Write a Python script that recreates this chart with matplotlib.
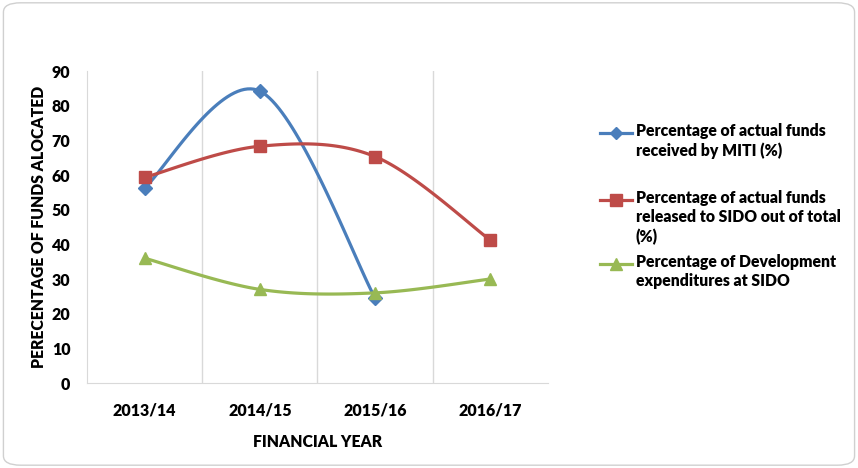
import numpy as np
import matplotlib.pyplot as plt
from matplotlib.patches import FancyBboxPatch
from matplotlib.lines import Line2D

plt.rcParams['font.family'] = ['Lato', 'DejaVu Sans']

years = ['2013/14', '2014/15', '2015/16', '2016/17']
miti = [56.3, 84.2, 24.5]
sido_released = [59.3, 68.3, 65.3, 41.2]
dev_exp = [36.0, 27.0, 26.0, 30.0]

labels = ['Percentage of actual funds\nreceived by MITI (%)',
          'Percentage of actual funds\nreleased to SIDO out of total\n(%)',
          'Percentage of Development\nexpenditures at SIDO']
colors = ['#4a7ebb', '#be4b48', '#98b954']
markers = ['D', 's', '^']
msizes = [7, 9, 9]


def smooth(xs, ys, n=40):
    # Catmull-Rom style bezier through the points
    p = np.column_stack([xs, ys]).astype(float)
    ext = np.vstack([p[0], p, p[-1]])
    out = []
    t = np.linspace(0, 1, n)[:, None]
    for i in range(len(p) - 1):
        p0, p1, p2, p3 = ext[i], ext[i + 1], ext[i + 2], ext[i + 3]
        c1 = p1 + (p2 - p0) / 6
        c2 = p2 - (p3 - p1) / 6
        seg = ((1 - t) ** 3) * p1 + 3 * ((1 - t) ** 2) * t * c1 + 3 * (1 - t) * t ** 2 * c2 + t ** 3 * p2
        out.append(seg)
    out = np.vstack(out)
    return out[:, 0], out[:, 1]


fig = plt.figure(figsize=(8.58, 4.68), dpi=100)
ax = fig.add_axes([87 / 858, 1 - 383 / 468, 461 / 858, 312 / 468])

series = [miti, sido_released, dev_exp]
for vals, c, m, ms in zip(series, colors, markers, msizes):
    x = np.arange(len(vals))
    sx, sy = smooth(x, vals)
    ax.plot(sx, sy, color=c, lw=2.3, solid_capstyle='round', zorder=3)
    ax.plot(x, vals, ls='none', marker=m, ms=ms, color=c, zorder=4)

ax.set_xlim(-0.5, 3.5)
ax.set_ylim(0, 90)
ax.set_yticks(range(0, 91, 10))
ax.set_xticks(range(len(years)))
ax.set_xticklabels(years)
for b in [0.5, 1.5, 2.5]:
    ax.axvline(b, color='#d9d9d9', lw=1, zorder=1)

for s in ['top', 'right']:
    ax.spines[s].set_visible(False)
for s in ['left', 'bottom']:
    ax.spines[s].set_color('#d9d9d9')
ax.tick_params(length=0, labelsize=11.5, pad=12)
ax.tick_params(axis='x', pad=14)
for lab in ax.get_xticklabels() + ax.get_yticklabels():
    lab.set_fontweight('heavy')

ax.set_ylabel('PERECENTAGE OF FUNDS ALOCATED', fontsize=11.3, fontweight='heavy', labelpad=3)
ax.set_xlabel('FINANCIAL YEAR', fontsize=11.3, fontweight='heavy', labelpad=11)

# legend entries placed one by one
legend_y = [133, 200, 264]
for lab, c, m, ms, yy in zip(labels, colors, markers, msizes, legend_y):
    fy = 1 - yy / 468
    fig.add_artist(Line2D([600 / 858, 632 / 858], [fy, fy], color=c, lw=2.3))
    fig.add_artist(Line2D([616 / 858], [fy], marker=m, ms=ms - 1, color=c))
    fig.text(636 / 858, fy + 10 / 468, lab, fontsize=11.3, fontweight='heavy',
             va='top', ha='left', linespacing=1.25)

border = FancyBboxPatch((0.004, 0.006), 0.992, 0.988, boxstyle='round,pad=0,rounding_size=0.02',
                        transform=fig.transFigure, fill=False, ec='#d0d0d0', lw=1)
fig.add_artist(border)

fig.savefig('out.png', dpi=100)
